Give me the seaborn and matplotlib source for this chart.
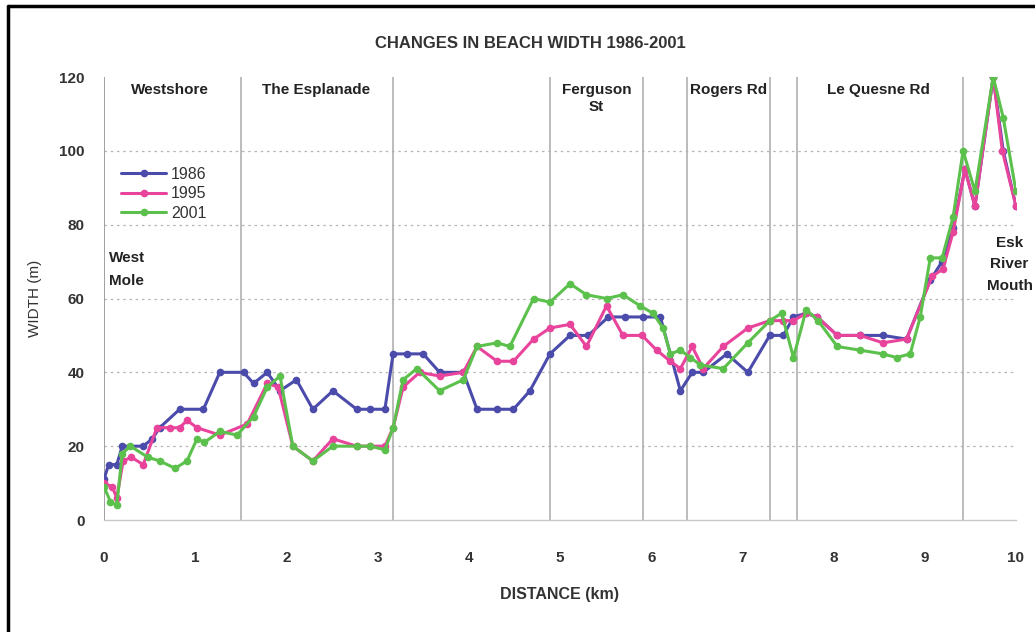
import numpy as np
import pandas as pd
import matplotlib
matplotlib.use("Agg")
import matplotlib.pyplot as plt
import seaborn as sns
from matplotlib.lines import Line2D

sns.set_style("white")
plt.rcParams['font.family'] = ['Liberation Sans', 'DejaVu Sans']

# ---- data ----
dist_1986 = [0, 0.05, 0.14, 0.2, 0.43, 0.53, 0.61, 0.83, 1.09, 1.27, 1.53, 1.64, 1.79, 1.93, 2.11,
             2.29, 2.51, 2.77, 2.92, 3.08, 3.17, 3.32, 3.5, 3.68, 3.94, 4.09, 4.31, 4.49, 4.67, 4.89,
             5.11, 5.31, 5.53, 5.71, 5.91, 6.1, 6.32, 6.45, 6.57, 6.83, 7.06, 7.3, 7.45, 7.56, 7.7,
             7.82, 8.04, 8.29, 8.54, 8.8, 9.06, 9.19, 9.31, 9.44, 9.55, 9.75, 9.86, 10.0]
width_1986 = [11, 15, 15, 20, 20, 22, 25, 30, 30, 40, 40, 37, 40, 35, 38,
              30, 35, 30, 30, 30, 45, 45, 45, 40, 40, 30, 30, 30, 35, 45,
              50, 50, 55, 55, 55, 55, 35, 40, 40, 45, 40, 50, 50, 55, 56,
              55, 50, 50, 50, 49, 65, 70, 79, 95, 85, 120, 100, 85]

dist_1995 = [0, 0.09, 0.14, 0.21, 0.3, 0.43, 0.58, 0.72, 0.83, 0.91, 1.02, 1.27, 1.57, 1.79, 1.91,
             2.07, 2.29, 2.51, 2.77, 2.92, 3.08, 3.17, 3.28, 3.46, 3.68, 3.94, 4.09, 4.31, 4.49, 4.71,
             4.89, 5.11, 5.29, 5.51, 5.69, 5.9, 6.06, 6.21, 6.32, 6.45, 6.57, 6.79, 7.06, 7.3, 7.45,
             7.56, 7.7, 7.82, 8.04, 8.29, 8.54, 8.8, 9.08, 9.2, 9.31, 9.44, 9.55, 9.75, 9.85, 10.0]
width_1995 = [10, 9, 6, 16, 17, 15, 25, 25, 25, 27, 25, 23, 26, 37, 36,
              20, 16, 22, 20, 20, 20, 25, 36, 40, 39, 40, 47, 43, 43, 49,
              52, 53, 47, 58, 50, 50, 46, 43, 41, 47, 41, 47, 52, 54, 54,
              54, 56, 55, 50, 50, 48, 49, 66, 68, 78, 95, 85, 120, 100, 85]

dist_2001 = [0, 0.07, 0.14, 0.2, 0.29, 0.48, 0.61, 0.78, 0.91, 1.02, 1.1, 1.27, 1.46, 1.64, 1.79,
             1.93, 2.07, 2.29, 2.51, 2.77, 2.92, 3.08, 3.17, 3.28, 3.43, 3.68, 3.94, 4.09, 4.31, 4.45,
             4.71, 4.89, 5.11, 5.29, 5.51, 5.69, 5.88, 6.02, 6.13, 6.21, 6.32, 6.43, 6.54, 6.79, 7.06,
             7.3, 7.43, 7.56, 7.7, 7.83, 8.04, 8.29, 8.54, 8.69, 8.84, 8.95, 9.06, 9.19, 9.31, 9.42,
             9.55, 9.75, 9.86, 10.0]
width_2001 = [9, 5, 4, 18, 20, 17, 16, 14, 16, 22, 21, 24, 23, 28, 36,
              39, 20, 16, 20, 20, 20, 19, 25, 38, 41, 35, 38, 47, 48, 47,
              60, 59, 64, 61, 60, 61, 58, 56, 52, 45, 46, 44, 42, 41, 48,
              54, 56, 44, 57, 54, 47, 46, 45, 44, 45, 55, 71, 71, 82, 100,
              89, 120, 109, 89]

years = ["1986", "1995", "2001"]
section_bounds = [1.5, 3.17, 4.89, 5.91, 6.39, 7.3, 7.6, 9.42]
section_names = ["Westshore", "The Esplanade", "Ferguson\nSt", "Rogers Rd", "Le Quesne Rd"]
section_pos = [0.72, 2.33, 5.4, 6.85, 8.49]
y_ticks = [0, 20, 40, 60, 80, 100, 120]
x_ticks = list(range(0, 11))

df = pd.concat([
    pd.DataFrame({"dist": dist_1986, "width": width_1986, "year": "1986"}),
    pd.DataFrame({"dist": dist_1995, "width": width_1995, "year": "1995"}),
    pd.DataFrame({"dist": dist_2001, "width": width_2001, "year": "2001"}),
], ignore_index=True)

palette = {"1986": "#4b4bab", "1995": "#e8449c", "2001": "#5cc04c"}

fig = plt.figure(figsize=(10.35, 6.32), dpi=100)
ax = fig.add_axes([104/1035, 1-520/632, (1016-104)/1035, (520-77)/632])

# figure border (left and top)
fig.add_artist(Line2D([8/1035, 8/1035], [0, 1-6/632], color="black", lw=2.5, transform=fig.transFigure))
fig.add_artist(Line2D([8/1035, 1], [1-6/632, 1-6/632], color="black", lw=2.5, transform=fig.transFigure))

# grid
for yv in [20, 40, 60, 80, 100]:
    ax.axhline(yv, color="#b5b5b5", lw=0.9, ls=(0, (2, 3)), zorder=0)
ax.axvline(0, color="#999999", lw=1.3, zorder=0)
for xb in section_bounds:
    ax.axvline(xb, color="#b0b0b0", lw=1.2, zorder=0)

sns.lineplot(data=df, x="dist", y="width", hue="year", hue_order=years, palette=palette,
             marker="o", markersize=5.5, markeredgewidth=0, lw=2.2, sort=False,
             estimator=None, ax=ax, zorder=3)

ax.set_xlim(0, 10)
ax.set_ylim(0, 120)
ax.set_xticks(x_ticks)
ax.set_yticks(y_ticks)
ax.tick_params(axis="both", length=0, labelsize=11, labelcolor="#333333")
ax.tick_params(axis="x", pad=22)
ax.tick_params(axis="y", pad=14)
for lbl in ax.get_xticklabels() + ax.get_yticklabels():
    lbl.set_fontweight("bold")
for s in ["top", "right", "left"]:
    ax.spines[s].set_visible(False)
ax.spines["bottom"].set_color("#c8c8c8")
ax.spines["bottom"].set_linewidth(1.0)

ax.set_xlabel("DISTANCE (km)", fontsize=11.5, fontweight="bold", color="#333333", labelpad=16)
ax.set_ylabel("WIDTH (m)", fontsize=11, color="#333333", labelpad=12)

fig.text(530/1035, 1-43/632, "CHANGES IN BEACH WIDTH 1986-2001", ha="center", va="center",
         fontsize=12, fontweight="bold", color="#333333")

for name, xp in zip(section_names, section_pos):
    ax.text(xp, 118.5, name, ha="center", va="top", fontsize=11, fontweight="bold",
            color="#222222", linespacing=1.3)
ax.text(0.05, 73, "West\nMole", ha="left", va="top", fontsize=11, fontweight="bold",
        color="#222222", linespacing=1.9)
ax.text(9.93, 77, "Esk\nRiver\nMouth", ha="center", va="top", fontsize=11, fontweight="bold",
        color="#222222", linespacing=1.7, clip_on=False)

leg = ax.legend(loc="upper left", bbox_to_anchor=(0.012, 0.812), frameon=False, fontsize=11.5,
                handlelength=2.8, handletextpad=0.3, labelspacing=0.28, borderaxespad=0)
for t in leg.get_texts():
    t.set_color("#333333")

fig.savefig("out.png", dpi=100, facecolor="white")
